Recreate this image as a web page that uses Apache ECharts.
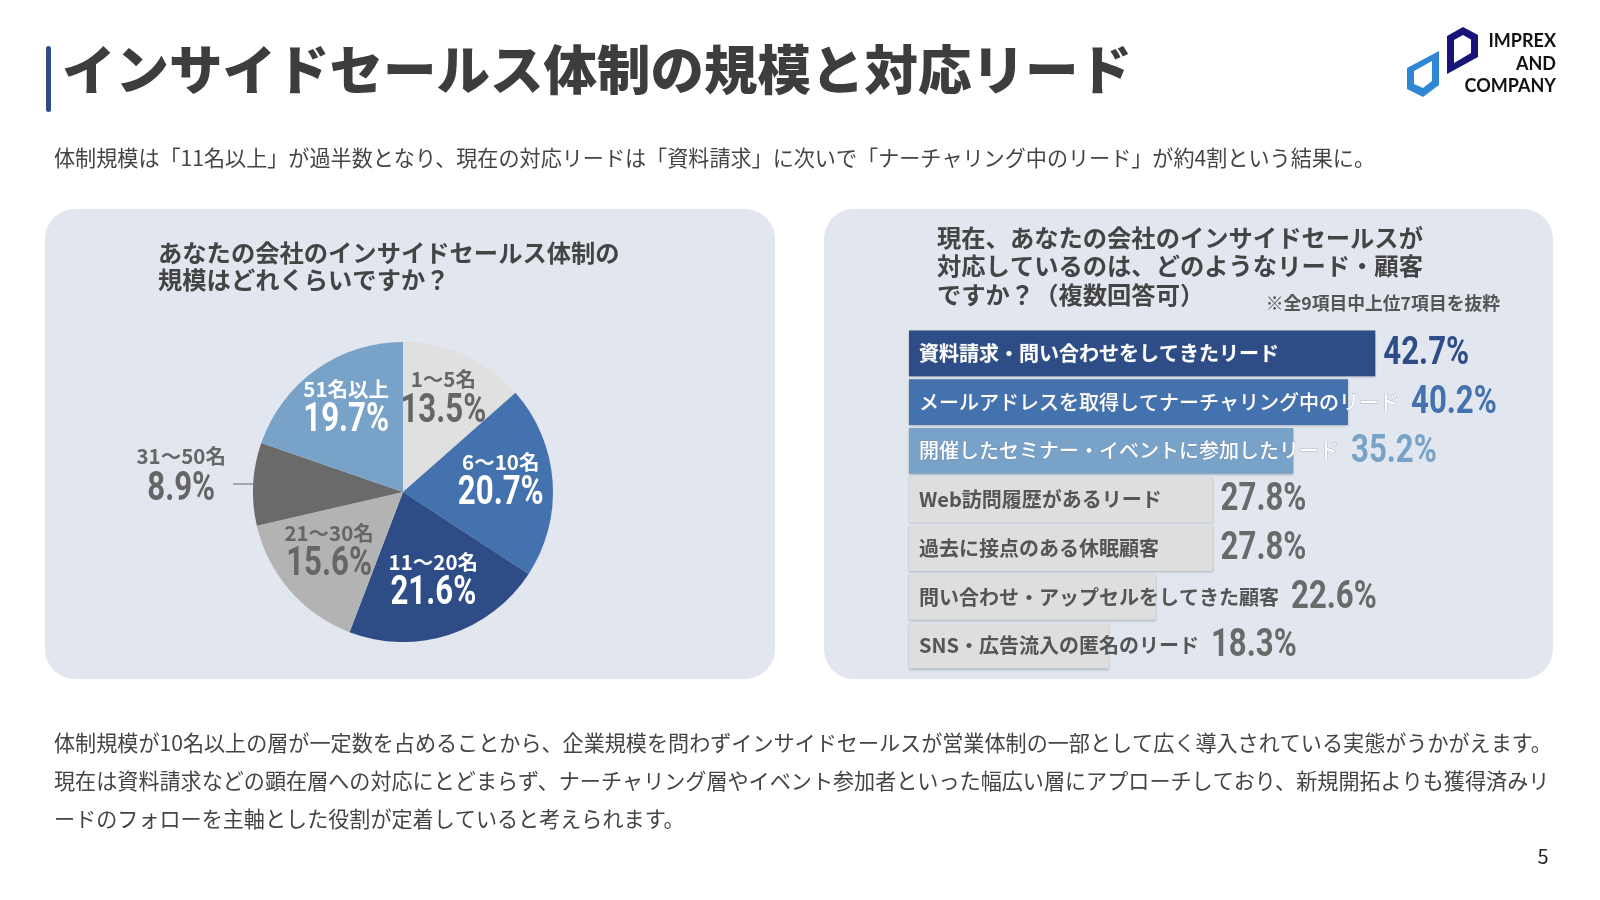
<!DOCTYPE html>
<html>
<head>
<meta charset="utf-8">
<title>インサイドセールス体制の規模と対応リード</title>
<script src="https://cdn.jsdelivr.net/npm/echarts@6/dist/echarts.min.js"></script>
<style>
  html, body { margin: 0; padding: 0; background: #fff; }
  #main { width: 1600px; height: 900px; }
</style>
</head>
<body>
<div id="main"></div>
<script>
// 円グラフ：体制規模
var pieNames = ['1～5名', '6～10名', '11～20名', '21～30名', '31～50名', '51名以上'];
var pieValues = [13.5, 20.7, 21.6, 15.6, 8.9, 19.7];

// 棒グラフ：対応しているリード・顧客
var barNames = [
  '資料請求・問い合わせをしてきたリード',
  'メールアドレスを取得してナーチャリング中のリード',
  '開催したセミナー・イベントに参加したリード',
  'Web訪問履歴があるリード',
  '過去に接点のある休眠顧客',
  '問い合わせ・アップセルをしてきた顧客',
  'SNS・広告流入の匿名のリード'
];
var barValues = [42.7, 40.2, 35.2, 27.8, 27.8, 22.6, 18.3];

var JP = '"Noto Sans CJK JP", "Noto Sans", sans-serif';
var NUM = 'Roboto, "Noto Sans", sans-serif';

var PIE_CENTER = [403, 492];
var PIE_R = 150;

var pieColors = ['#e0e0e0', '#4472ae', '#2e4d87', '#b3b3b3', '#6a6a6a', '#78a2c8'];
var pieTextColors = ['#666', '#fff', '#fff', '#666', '#666', '#fff'];
var barColors = ['#2e4d87', '#4472ae', '#78a2c8', '#dedede', '#dedede', '#dedede', '#dedede'];
var barValueColors = ['#2e4d87', '#4472ae', '#78a2c8', '#6a6a6a', '#6a6a6a', '#6a6a6a', '#6a6a6a'];

var measureCtx = document.createElement('canvas').getContext('2d');
function textWidth(text, font) {
  measureCtx.font = font;
  return measureCtx.measureText(text).width;
}

function barTextFont(i) {
  var w = (i === 1 || i === 2) ? 500 : 'bold';
  return w + ' 20px ' + JP;
}

// 各スライスの中央の角度（%）
var pieMids = [];
(function () {
  var acc = 0;
  for (var i = 0; i < pieValues.length; i++) {
    pieMids.push(acc + pieValues[i] / 2);
    acc += pieValues[i];
  }
})();

var myChart = echarts.init(document.getElementById('main'));

var option = {
  backgroundColor: '#fff',
  animation: false,
  graphic: [
    // 見出し
    { type: 'rect', shape: { x: 46, y: 46, width: 5, height: 66, r: 2.5 }, style: { fill: '#2e4d87' } },
    { type: 'text', style: { text: 'インサイドセールス体制の規模と対応リード', x: 62, y: 70, verticalAlign: 'middle',
        font: '900 53.5px ' + JP, fill: '#3d3d3d' } },
    { type: 'text', style: { text: '体制規模は「11名以上」が過半数となり、現在の対応リードは「資料請求」に次いで「ナーチャリング中のリード」が約4割という結果に。',
        x: 54, y: 158, verticalAlign: 'middle', font: '21.1px ' + JP, fill: '#444' } },

    // ロゴ（外形を塗り、内側を白で抜く）
    { type: 'polygon', shape: { points: [[1447, 36], [1463, 27], [1478, 35], [1478, 57], [1447, 74]] }, style: { fill: '#15157a' } },
    { type: 'polygon', shape: { points: [[1454, 40], [1463, 35], [1471, 39.5], [1471, 53], [1454, 63]] }, style: { fill: '#fff' } },
    { type: 'polygon', shape: { points: [[1407, 68], [1439, 51], [1439, 85], [1423, 97], [1407, 89]] }, style: { fill: '#2e86d4' } },
    { type: 'polygon', shape: { points: [[1414, 71], [1432, 61], [1432, 81], [1423, 88], [1414, 84]] }, style: { fill: '#fff' } },
    { type: 'text', style: { text: 'IMPREX\nAND\nCOMPANY', x: 1556, y: 64, align: 'right', verticalAlign: 'middle',
        lineHeight: 22.5, font: 'bold 18px Lato, "DejaVu Sans", sans-serif', fill: '#111' } },

    // パネル
    { type: 'rect', z: -10, shape: { x: 45, y: 209, width: 730, height: 470, r: 30 }, style: { fill: '#e1e6ef' } },
    { type: 'rect', z: -10, shape: { x: 824, y: 209, width: 729, height: 470, r: 30 }, style: { fill: '#e1e6ef' } },

    { type: 'text', style: { text: 'あなたの会社のインサイドセールス体制の\n規模はどれくらいですか？', x: 158, y: 266,
        verticalAlign: 'middle', lineHeight: 27, font: 'bold 24.3px ' + JP, fill: '#444' } },
    { type: 'text', style: { text: '現在、あなたの会社のインサイドセールスが\n対応しているのは、どのようなリード・顧客\nですか？（複数回答可）',
        x: 937, y: 266, verticalAlign: 'middle', lineHeight: 28.5, font: 'bold 24.3px ' + JP, fill: '#444' } },
    { type: 'text', style: { text: '※全9項目中上位7項目を抜粋', x: 1500, y: 303, align: 'right', verticalAlign: 'middle',
        font: 'bold 17.8px ' + JP, fill: '#555' } },

    // 本文
    { type: 'text', style: { text: '体制規模が10名以上の層が一定数を占めることから、企業規模を問わずインサイドセールスが営業体制の一部として広く導入されている実態がうかがえます。\n現在は資料請求などの顕在層への対応にとどまらず、ナーチャリング層やイベント参加者といった幅広い層にアプローチしており、新規開拓よりも獲得済みリ\nードのフォローを主軸とした役割が定着していると考えられます。',
        x: 54, y: 781, verticalAlign: 'middle', lineHeight: 38, font: '21.1px ' + JP, fill: '#444' } },
    { type: 'text', style: { text: '5', x: 1543, y: 856, align: 'center', verticalAlign: 'middle', font: '20px ' + JP, fill: '#222' } }
  ],
  grid: { left: 909, top: 329, width: 546, height: 341 },
  xAxis: { type: 'value', min: 0, max: 50, show: false },
  yAxis: { type: 'category', data: barNames, inverse: true, show: false },
  // 円グラフのラベル配置用（円と同じ中心・半径）
  polar: { center: PIE_CENTER, radius: PIE_R },
  angleAxis: { type: 'value', min: 0, max: 100, startAngle: 90, clockwise: true, show: false },
  radiusAxis: { type: 'value', min: 0, max: PIE_R, show: false },
  series: [
    {
      type: 'pie',
      silent: true,
      center: PIE_CENTER,
      radius: [0, PIE_R],
      startAngle: 90,
      clockwise: true,
      label: { show: false },
      labelLine: { show: false },
      data: pieNames.map(function (n, i) {
        return { name: n, value: pieValues[i], itemStyle: { color: pieColors[i] } };
      })
    },
    {
      // 円グラフのラベル
      type: 'custom',
      coordinateSystem: 'polar',
      silent: true,
      z: 5,
      encode: { angle: 0, radius: 1 },
      data: pieMids.map(function (m, i) { return [m, pieValues[i]]; }),
      renderItem: function (params, api) {
        var i = params.dataIndex;
        var mid = api.value(0);
        var col = pieTextColors[i];
        var nameStyle = { text: pieNames[i], align: 'center', verticalAlign: 'middle', font: 'bold 20.5px ' + JP, fill: col };
        var valStyle = { text: pieValues[i].toFixed(1) + '%', align: 'center', verticalAlign: 'middle', font: 'bold 40px ' + NUM, fill: col };
        if (i === 4) {
          var edge = api.coord([PIE_R, mid]);
          var lx = edge[0] - 20;
          var cx = lx - 52;
          return {
            type: 'group',
            children: [
              { type: 'line', shape: { x1: edge[0], y1: edge[1], x2: lx, y2: edge[1] }, style: { stroke: '#666', lineWidth: 1 } },
              { type: 'text', x: cx, y: edge[1] - 28, style: nameStyle },
              { type: 'text', x: cx, y: edge[1] + 6, scaleX: 0.78, style: valStyle }
            ]
          };
        }
        var c = api.coord([98, mid]);
        return {
          type: 'group',
          children: [
            { type: 'text', x: c[0], y: c[1] - 23, style: nameStyle },
            { type: 'text', x: c[0], y: c[1] + 9, scaleX: 0.78, style: valStyle }
          ]
        };
      }
    },
    {
      type: 'custom',
      silent: true,
      xAxisIndex: 0,
      yAxisIndex: 0,
      encode: { x: 0, y: 1 },
      data: barValues.map(function (v, i) { return [v, i]; }),
      renderItem: function (params, api) {
        var i = params.dataIndex;
        var v = api.value(0);
        var start = api.coord([0, i]);
        var end = api.coord([v, i]);
        var h = api.size([0, 1])[1] * 0.94;
        var font = barTextFont(i);
        var tx = start[0] + 10;
        var tw = textWidth(barNames[i], font);
        var vx = Math.max(end[0] + 8, tx + tw + 12);
        var white = i < 3;
        return {
          type: 'group',
          children: [
            { type: 'rect', shape: { x: start[0], y: start[1] - h / 2, width: end[0] - start[0], height: h },
              style: { fill: barColors[i], shadowColor: 'rgba(0,0,0,0.22)', shadowBlur: 2, shadowOffsetY: 1 } },
            { type: 'text', style: { text: barNames[i], x: tx, y: start[1], verticalAlign: 'middle', font: font,
                fill: white ? '#fff' : '#555',
                stroke: white ? 'rgba(110,130,160,0.55)' : null, lineWidth: white ? 0.8 : 0 } },
            { type: 'text', x: vx, y: start[1] + 1, scaleX: 0.8,
              style: { text: v.toFixed(1) + '%', verticalAlign: 'middle', font: 'bold 39px ' + NUM, fill: barValueColors[i] } }
          ]
        };
      }
    }
  ]
};

myChart.setOption(option);
</script>
</body>
</html>
